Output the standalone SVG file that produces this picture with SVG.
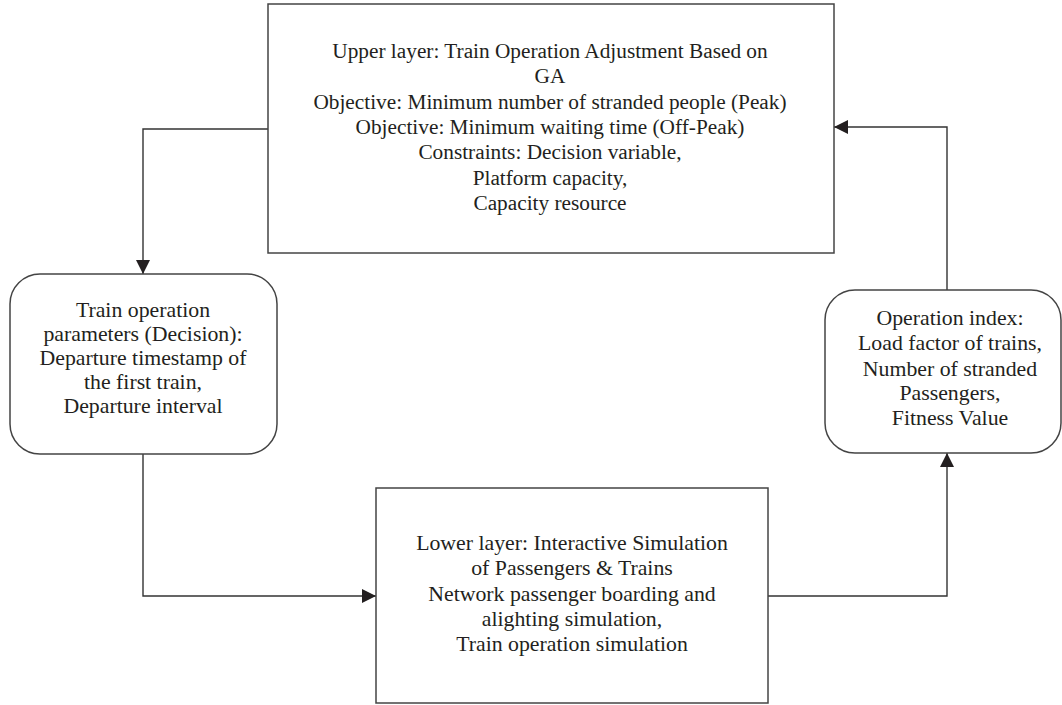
<svg xmlns="http://www.w3.org/2000/svg" width="1062" height="705" viewBox="0 0 1062 705">
<style>
.box{fill:#fff;stroke:#444;stroke-width:1.5}
.t{font-family:"Liberation Serif","Times New Roman",serif;font-size:21.8px;fill:#231f20;text-anchor:middle}
.tu{font-size:21.3px}
.c{fill:none;stroke:#333;stroke-width:1.4}
</style>
<defs>
<marker id="ah" viewBox="0 0 14 14" refX="14" refY="7" markerWidth="14" markerHeight="14" markerUnits="userSpaceOnUse" orient="auto">
<path d="M0,0 L14,7 L0,14 Z" fill="#231f20"/>
</marker>
</defs>
<rect width="1062" height="705" fill="#fff"/>
<g id="connectors">
<path class="c" d="M268,129 H143 V274" marker-end="url(#ah)"/>
<path class="c" d="M143,454 V596 H376" marker-end="url(#ah)"/>
<path class="c" d="M768,596 H947 V453" marker-end="url(#ah)"/>
<path class="c" d="M947,290 V127 H834" marker-end="url(#ah)"/>
</g>
<g id="upper">
<rect class="box" x="268" y="4" width="566" height="249"/>
<text class="t tu" x="550" y="58">Upper layer: Train Operation Adjustment Based on</text>
<text class="t tu" x="550" y="83.3">GA</text>
<text class="t tu" x="550" y="108.6">Objective: Minimum number of stranded people (Peak)</text>
<text class="t tu" x="550" y="133.9">Objective: Minimum waiting time (Off-Peak)</text>
<text class="t tu" x="550" y="159.2">Constraints: Decision variable,</text>
<text class="t tu" x="550" y="184.5">Platform capacity,</text>
<text class="t tu" x="550" y="209.8">Capacity resource</text>
</g>
<g id="params">
<rect class="box" x="10" y="274" width="267" height="180" rx="30" ry="30"/>
<text class="t" x="143" y="317">Train operation</text>
<text class="t" x="143" y="341">parameters (Decision):</text>
<text class="t" x="143" y="365">Departure timestamp of</text>
<text class="t" x="143" y="389">the first train,</text>
<text class="t" x="143" y="413">Departure interval</text>
</g>
<g id="lower">
<rect class="box" x="376" y="488" width="392" height="215"/>
<text class="t" x="572" y="550">Lower layer: Interactive Simulation</text>
<text class="t" x="572" y="575">of Passengers &amp; Trains</text>
<text class="t" x="572" y="601">Network passenger boarding and</text>
<text class="t" x="572" y="626">alighting simulation,</text>
<text class="t" x="572" y="651">Train operation simulation</text>
</g>
<g id="index">
<rect class="box" x="825" y="290" width="236" height="163" rx="30" ry="30"/>
<text class="t" x="950" y="325">Operation index:</text>
<text class="t" x="950" y="350">Load factor of trains,</text>
<text class="t" x="950" y="376">Number of stranded</text>
<text class="t" x="950" y="400">Passengers,</text>
<text class="t" x="950" y="425">Fitness Value</text>
</g>
</svg>
